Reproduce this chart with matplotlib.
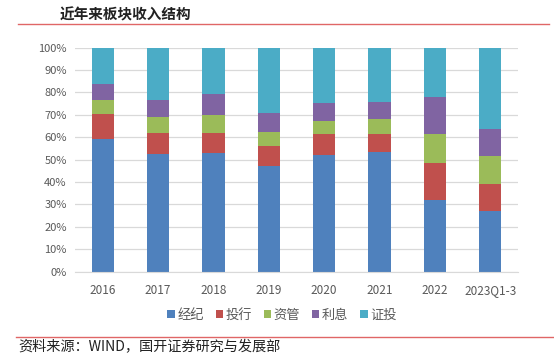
import matplotlib.pyplot as plt
import numpy as np
from matplotlib.lines import Line2D
from matplotlib.patches import Patch

plt.rcParams['font.family'] = ['Noto Sans CJK SC', 'DejaVu Sans']

years = ['2016', '2017', '2018', '2019', '2020', '2021', '2022', '2023Q1-3']
# 收入结构占比 (%)
brokerage = [59.1, 52.6, 52.7, 47.3, 52.0, 53.3, 31.9, 26.9]   # 经纪
ib = [11.2, 9.4, 9.1, 8.6, 9.2, 8.2, 16.5, 12.3]               # 投行
am = [6.2, 6.8, 8.0, 6.4, 6.0, 6.4, 13.1, 12.4]                # 资管
interest = [7.2, 7.6, 9.5, 8.6, 8.0, 7.9, 16.4, 12.0]          # 利息
invest = [16.3, 23.6, 20.7, 29.1, 24.8, 24.2, 22.1, 36.4]      # 证投

series = [('经纪', brokerage, '#4F81BD'), ('投行', ib, '#C0504D'),
          ('资管', am, '#9BBB59'), ('利息', interest, '#8064A2'),
          ('证投', invest, '#4BACC6')]

fig = plt.figure(figsize=(5.54, 3.64), dpi=100)
ax = fig.add_axes([0.1354, 0.254, 0.7996, 0.6154])

x = np.arange(len(years))
bottom = np.zeros(len(years))
for name, vals, col in series:
    v = np.array(vals) / 100.0
    ax.bar(x, v, 0.4, bottom=bottom, color=col, label=name, zorder=2)
    bottom += v

ax.set_xlim(-0.5, len(years) - 0.5)
ax.set_ylim(0, 1.0)
ax.set_yticks(np.arange(0, 1.01, 0.1))
ax.set_yticklabels([f'{int(round(t * 100))}%' for t in np.arange(0, 1.01, 0.1)])
ax.set_xticks(x)
ax.set_xticklabels(years)
ax.yaxis.grid(True, color='#D9D9D9', linewidth=0.9, zorder=0)
for s in ['top', 'right', 'left']:
    ax.spines[s].set_visible(False)
ax.spines['bottom'].set_color('#D9D9D9')
ax.tick_params(axis='both', length=0, labelsize=8, colors='#595959', pad=6)
ax.tick_params(axis='x', pad=9, labelsize=8.5)

handles = [Patch(facecolor=c, label=n) for n, _, c in series]
fig.legend(handles=handles, loc='center', bbox_to_anchor=(282 / 554, 1 - 315 / 364),
           ncol=5, frameon=False, fontsize=9.5, handlelength=0.55, handleheight=0.55,
           handletextpad=0.2, columnspacing=0.9, labelcolor='#595959')

# 标题与来源
fig.text(60 / 554, 1 - 14 / 364, '近年来板块收入结构', fontsize=10.5,
         fontweight='bold', va='center', ha='left', color='#222222')
fig.add_artist(Line2D([18 / 554, 549 / 554], [1 - 23.5 / 364] * 2, color='#E06666', lw=1.0))
fig.add_artist(Line2D([16 / 554, 1.0], [1 - 337 / 364] * 2, color='#E06666', lw=1.0))
fig.text(18 / 554, 1 - 347.5 / 364, '资料来源：WIND，国开证券研究与发展部', fontsize=10.2,
         va='center', ha='left', color='#222222')

fig.savefig('out.png', dpi=100)
